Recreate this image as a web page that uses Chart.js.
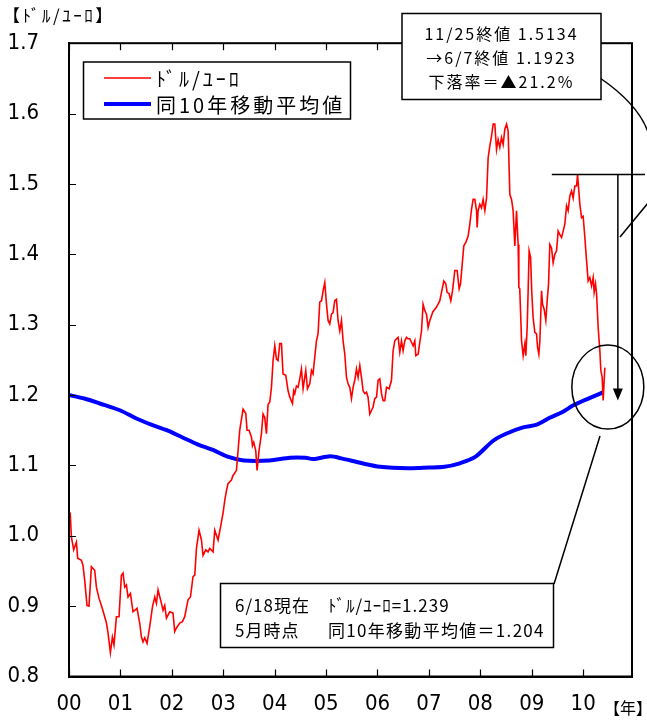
<!DOCTYPE html>
<html lang="ja">
<head>
<meta charset="utf-8">
<title>ドル/ユーロ</title>
<script src="https://cdn.jsdelivr.net/npm/chart.js@4.4.1/dist/chart.umd.min.js"></script>
<style>
  html, body { margin: 0; padding: 0; background: #fff; }
</style>
</head>
<body>
<canvas id="fxChart" width="647" height="725"></canvas>
<script>
// ドル/ユーロ rate, x = years since 2000
const fxYears = [
  0.000, 0.023, 0.047, 0.091, 0.144, 0.169, 0.241, 0.272, 0.305, 0.350, 0.389, 0.436, 0.500, 0.533, 0.584, 0.630, 0.675, 0.728, 0.759, 0.805, 0.844, 0.875, 0.922, 0.973,
  1.019, 1.051, 1.084, 1.117, 1.148, 1.195, 1.245, 1.278, 1.323, 1.375, 1.409, 1.440, 1.473, 1.518, 1.570, 1.623, 1.667, 1.700, 1.732, 1.798, 1.829, 1.862, 1.895, 1.959,
  2.023, 2.056, 2.089, 2.154, 2.206, 2.251, 2.315, 2.362, 2.412, 2.446, 2.479, 2.529, 2.576, 2.607, 2.660, 2.704, 2.737, 2.802, 2.835, 2.899, 2.946, 2.996,
  3.029, 3.062, 3.093, 3.160, 3.185, 3.257, 3.321, 3.385, 3.438, 3.463, 3.502, 3.549, 3.568, 3.593, 3.632, 3.658, 3.696, 3.743, 3.774, 3.807, 3.840, 3.872, 3.905, 3.938, 3.969,
  4.002, 4.035, 4.066, 4.099, 4.132, 4.163, 4.216, 4.261, 4.294, 4.346, 4.370, 4.391, 4.424, 4.455, 4.488, 4.521, 4.553, 4.605, 4.638, 4.683, 4.716, 4.747, 4.780, 4.813, 4.844, 4.877, 4.911, 4.942, 4.975,
  5.008, 5.039, 5.072, 5.105, 5.136, 5.169, 5.202, 5.233, 5.267, 5.300, 5.331, 5.364, 5.397, 5.428, 5.461, 5.494, 5.525, 5.558, 5.591, 5.623, 5.656, 5.689, 5.720, 5.753, 5.786, 5.817, 5.850, 5.883, 5.914, 5.947, 5.981,
  6.012, 6.045, 6.078, 6.109, 6.142, 6.175, 6.226, 6.272, 6.304, 6.337, 6.370, 6.401, 6.434, 6.467, 6.498, 6.531, 6.564, 6.595, 6.628, 6.661, 6.693, 6.726, 6.745, 6.790, 6.823, 6.856, 6.887, 6.920, 6.953, 6.984,
  7.018, 7.076, 7.148, 7.212, 7.245, 7.290, 7.329, 7.354, 7.393, 7.426, 7.459, 7.504, 7.549, 7.588, 7.615, 7.654, 7.679, 7.718, 7.763, 7.796, 7.829, 7.860, 7.893, 7.926, 7.938, 7.957, 7.990,
  8.023, 8.054, 8.088, 8.121, 8.152, 8.185, 8.218, 8.249, 8.282, 8.315, 8.346, 8.379, 8.412, 8.444, 8.477, 8.510, 8.541, 8.574, 8.607, 8.638, 8.671, 8.704, 8.735, 8.749, 8.767, 8.802, 8.833, 8.866, 8.885, 8.911, 8.930, 8.949, 8.977,
  9.002, 9.027, 9.060, 9.093, 9.113, 9.138, 9.158, 9.191, 9.210, 9.241, 9.274, 9.300, 9.327, 9.352, 9.385, 9.416, 9.449, 9.482, 9.514, 9.547, 9.580, 9.611, 9.644, 9.677, 9.708, 9.741, 9.774, 9.805, 9.838, 9.872, 9.891, 9.936, 9.969,
  10.000, 10.033, 10.066, 10.097, 10.130, 10.163, 10.195, 10.214, 10.241, 10.261, 10.292, 10.325, 10.344, 10.370, 10.389, 10.422
];
const fxValues = [
  1.010, 1.033, 0.998, 0.980, 0.991, 0.968, 0.965, 0.958, 0.937, 0.901, 0.900, 0.956, 0.951, 0.927, 0.911, 0.901, 0.890, 0.876, 0.862, 0.834, 0.856, 0.845, 0.885, 0.885,
  0.944, 0.947, 0.927, 0.930, 0.913, 0.918, 0.892, 0.894, 0.897, 0.876, 0.856, 0.849, 0.855, 0.847, 0.871, 0.899, 0.913, 0.904, 0.923, 0.904, 0.894, 0.901, 0.883, 0.892,
  0.890, 0.864, 0.869, 0.876, 0.878, 0.885, 0.909, 0.913, 0.942, 0.944, 0.982, 1.008, 0.994, 0.972, 0.980, 0.977, 0.982, 0.977, 1.008, 0.994, 1.012, 1.032,
  1.050, 1.064, 1.074, 1.079, 1.085, 1.093, 1.150, 1.180, 1.174, 1.150, 1.150, 1.140, 1.128, 1.133, 1.121, 1.093, 1.121, 1.145, 1.173, 1.168, 1.145, 1.187, 1.190, 1.211, 1.249,
  1.270, 1.251, 1.249, 1.273, 1.273, 1.230, 1.228, 1.206, 1.197, 1.188, 1.206, 1.202, 1.213, 1.211, 1.223, 1.237, 1.209, 1.235, 1.209, 1.216, 1.235, 1.230, 1.254, 1.277, 1.287, 1.332, 1.334, 1.348, 1.360,
  1.329, 1.306, 1.301, 1.315, 1.317, 1.334, 1.336, 1.306, 1.291, 1.306, 1.277, 1.258, 1.225, 1.216, 1.211, 1.195, 1.211, 1.221, 1.237, 1.225, 1.242, 1.225, 1.206, 1.202, 1.204, 1.197, 1.173, 1.178, 1.183, 1.195, 1.197,
  1.221, 1.223, 1.202, 1.192, 1.192, 1.211, 1.209, 1.221, 1.263, 1.277, 1.280, 1.282, 1.261, 1.277, 1.263, 1.277, 1.282, 1.280, 1.280, 1.275, 1.270, 1.277, 1.256, 1.258, 1.275, 1.291, 1.329, 1.320, 1.315, 1.296,
  1.306, 1.318, 1.325, 1.334, 1.346, 1.362, 1.358, 1.346, 1.344, 1.334, 1.348, 1.377, 1.377, 1.351, 1.358, 1.391, 1.412, 1.417, 1.426, 1.443, 1.464, 1.478, 1.478, 1.462, 1.438, 1.462, 1.471,
  1.466, 1.478, 1.462, 1.480, 1.537, 1.554, 1.568, 1.585, 1.585, 1.549, 1.563, 1.552, 1.566, 1.556, 1.578, 1.585, 1.575, 1.485, 1.478, 1.462, 1.412, 1.462, 1.414, 1.353, 1.351, 1.277, 1.256, 1.273, 1.256, 1.296, 1.348, 1.405, 1.396,
  1.344, 1.310, 1.289, 1.287, 1.268, 1.258, 1.277, 1.348, 1.329, 1.322, 1.306, 1.334, 1.358, 1.414, 1.409, 1.388, 1.400, 1.405, 1.433, 1.428, 1.424, 1.433, 1.443, 1.469, 1.462, 1.483, 1.490, 1.480, 1.497, 1.497, 1.5134, 1.471, 1.452,
  1.454, 1.424, 1.391, 1.362, 1.367, 1.355, 1.367, 1.346, 1.358, 1.344, 1.296, 1.263, 1.235, 1.225, 1.1923, 1.239
];

// 10-year moving average
const maYears = [0.0, 0.3, 0.6, 1.0, 1.3, 1.6, 1.9, 2.2, 2.5, 2.8, 3.1, 3.4, 3.9, 4.3, 4.6, 4.75, 5.08, 5.3, 5.7, 6.05, 6.6, 7.0, 7.3, 7.6, 7.9, 8.25, 8.5, 8.83, 9.1, 9.36, 9.6, 9.8, 10.1, 10.33, 10.38];
const maValues = [1.200, 1.195, 1.188, 1.178, 1.167, 1.158, 1.150, 1.140, 1.130, 1.122, 1.112, 1.107, 1.107, 1.111, 1.111, 1.109, 1.113, 1.110, 1.103, 1.098, 1.096, 1.097, 1.098, 1.103, 1.112, 1.135, 1.145, 1.154, 1.158, 1.168, 1.176, 1.185, 1.195, 1.202, 1.204];

const seriesNames = ['ﾄﾞﾙ/ﾕｰﾛ', '同10年移動平均値'];
const xTickLabels = ['00', '01', '02', '03', '04', '05', '06', '07', '08', '09', '10'];

const JP = "'Noto Sans CJK JP', sans-serif";
const NUM = "'Liberation Sans Narrow', 'DejaVu Sans Condensed', sans-serif";

function txt(ctx, s, x, y, size, spacing, align) {
    ctx.font = size + 'px ' + JP;
    ctx.letterSpacing = spacing + 'px';
    ctx.textAlign = align || 'left';
    ctx.textBaseline = 'middle';
    ctx.fillStyle = '#000';
    ctx.fillText(s, x, y);
    ctx.letterSpacing = '0px';
}

function box(ctx, x, y, w, h) {
    ctx.fillStyle = '#fff';
    ctx.fillRect(x, y, w, h);
    ctx.strokeStyle = '#000';
    ctx.lineWidth = 1.5;
    ctx.strokeRect(x, y, w, h);
}

// frame, inward ticks, legend and the notes around the last months
const notes = {
    id: 'notes',
    afterDraw(chart) {
        const { ctx, chartArea: a, scales: { x, y } } = chart;
        ctx.save();

        ctx.strokeStyle = '#000';
        ctx.lineWidth = 2;
        ctx.strokeRect(a.left, a.top, a.right - a.left, a.bottom - a.top);

        ctx.lineWidth = 1.2;
        ctx.beginPath();
        x.ticks.forEach(t => {
            const px = Math.round(x.getPixelForValue(t.value)) + 0.5;
            ctx.moveTo(px, a.bottom); ctx.lineTo(px, a.bottom - 7);
            ctx.moveTo(px, a.top); ctx.lineTo(px, a.top + 7);
        });
        y.ticks.forEach(t => {
            const py = Math.round(y.getPixelForValue(t.value)) + 0.5;
            ctx.moveTo(a.left, py); ctx.lineTo(a.left + 7, py);
        });
        ctx.stroke();

        txt(ctx, '【ﾄﾞﾙ/ﾕｰﾛ】', 3, 16, 17, 2.5);
        txt(ctx, '【年】', 604, 708, 16, 0);

        // legend
        box(ctx, 83.5, 62, 267, 57);
        ctx.lineWidth = 1.5;
        ctx.strokeStyle = '#ff0000';
        ctx.beginPath(); ctx.moveTo(104, 78); ctx.lineTo(151, 78); ctx.stroke();
        ctx.lineWidth = 4;
        ctx.strokeStyle = '#0000ff';
        ctx.beginPath(); ctx.moveTo(104, 104); ctx.lineTo(151, 104); ctx.stroke();
        txt(ctx, seriesNames[0], 156, 79, 20, 3);
        txt(ctx, seriesNames[1], 156, 105, 20, 3);

        // drop from the 11/25 close to the 6/7 close
        const yHigh = y.getPixelForValue(1.5134);
        const yLow = y.getPixelForValue(1.1923);
        const xArrow = x.getPixelForValue(10.675);
        ctx.strokeStyle = '#000';
        ctx.lineWidth = 1.5;
        ctx.beginPath();
        ctx.moveTo(x.getPixelForValue(9.39), yHigh); ctx.lineTo(645, yHigh);
        ctx.moveTo(xArrow, yHigh); ctx.lineTo(xArrow, yLow - 10);
        ctx.stroke();
        ctx.fillStyle = '#000';
        ctx.beginPath();
        ctx.moveTo(xArrow, yLow); ctx.lineTo(xArrow - 5, yLow - 12); ctx.lineTo(xArrow + 5, yLow - 12);
        ctx.closePath(); ctx.fill();

        // circle round the latest values
        const cx = x.getPixelForValue(10.48), cy = y.getPixelForValue(1.2113);
        ctx.beginPath();
        ctx.ellipse(cx, cy, 36, 42, 0, 0, Math.PI * 2);
        ctx.stroke();

        // leader lines
        ctx.beginPath();
        ctx.moveTo(600, 436); ctx.lineTo(554, 584);
        ctx.moveTo(600, 78); ctx.quadraticCurveTo(638, 104, 648, 132);
        ctx.moveTo(620, 237); ctx.lineTo(648, 203);
        ctx.stroke();

        box(ctx, 402, 13.5, 199, 86);
        txt(ctx, '11/25終値 1.5134', 501.5, 34, 16, 2, 'center');
        txt(ctx, '→6/7終値 1.1923', 501.5, 58, 16, 2, 'center');
        txt(ctx, '下落率＝▲21.2%', 501.5, 82, 16, 2, 'center');

        box(ctx, 220.5, 583.5, 333, 64);
        txt(ctx, '6/18現在', 235, 606, 17, 1);
        txt(ctx, 'ﾄﾞﾙ/ﾕｰﾛ=1.239', 328, 606, 17, 1);
        txt(ctx, '5月時点', 235, 631, 17, 1);
        txt(ctx, '同10年移動平均値＝1.204', 328, 631, 17, 1.3);

        ctx.restore();
    }
};

new Chart(document.getElementById('fxChart'), {
    type: 'line',
    data: {
        datasets: [{
            label: seriesNames[0],
            data: fxYears.map((t, i) => ({ x: t, y: fxValues[i] })),
            borderColor: '#ff0000',
            borderWidth: 1.6,
            pointRadius: 0,
            tension: 0
        }, {
            label: seriesNames[1],
            data: maYears.map((t, i) => ({ x: t, y: maValues[i] })),
            borderColor: '#0000ff',
            borderWidth: 4,
            pointRadius: 0,
            tension: 0.3
        }]
    },
    options: {
        responsive: false,
        animation: false,
        layout: { padding: { top: 42, right: 15, left: 0, bottom: 0 } },
        scales: {
            x: {
                type: 'linear',
                min: 0,
                max: 10.95,
                grid: { display: false, drawTicks: false },
                border: { display: true, color: '#000', width: 2 },
                ticks: {
                    stepSize: 1,
                    includeBounds: false,
                    autoSkip: false,
                    maxRotation: 0,
                    padding: 15,
                    color: '#000',
                    font: { family: NUM, size: 22 },
                    callback: v => xTickLabels[v] ?? ''
                },
                afterFit: s => { s.height = 48.5; }
            },
            y: {
                min: 0.8,
                max: 1.7,
                grid: { display: false, drawTicks: false },
                border: { display: true, color: '#000', width: 2 },
                ticks: {
                    stepSize: 0.1,
                    padding: 30,
                    color: '#000',
                    font: { family: NUM, size: 22 },
                    callback: v => v.toFixed(1)
                },
                afterFit: s => { s.width = 69; }
            }
        },
        plugins: {
            legend: { display: false },
            tooltip: { enabled: false }
        }
    },
    plugins: [notes]
});
</script>
</body>
</html>
